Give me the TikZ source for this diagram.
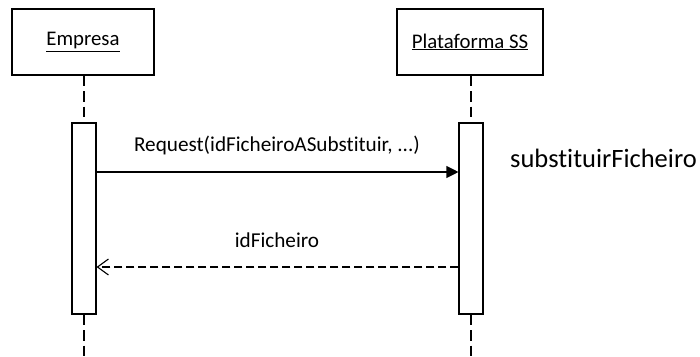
\documentclass[tikz,border=0pt]{standalone}
\usepackage{fontspec}
\setmainfont{Carlito}[Ligatures=NoCommon]
\usetikzlibrary{arrows.meta}
\tikzset{
  objbox/.style={draw=black, line width=1.1pt, fill=white, minimum width=142pt, minimum height=66pt, inner sep=0pt, font=\fontsize{20.8}{24}\selectfont},
  actbox/.style={draw=black, line width=1.1pt, fill=white, minimum width=24pt, minimum height=191pt, inner sep=0pt},
  lifeline/.style={line width=1.1pt, dash pattern=on 10.5pt off 5pt},
  msgcall/.style={line width=1.1pt, -{Triangle[length=12pt,width=12pt]}},
  msgret/.style={line width=1.1pt, dash pattern=on 8pt off 4pt, -{Straight Barb[length=11pt,width=16pt,line width=1.1pt]}},
  msglabel/.style={font=\fontsize{21.2}{24}\selectfont, inner sep=0pt},
}
\begin{document}
\begin{tikzpicture}[x=1pt,y=-1pt]
\useasboundingbox (0,0) rectangle (700,356);
\node[objbox] (e) at (83,42) {\underline{Empresa}};
\node[objbox, minimum width=146pt] (p) at (470,42) {\underline{Plataforma SS}};
\node[actbox] (ae) at (84,218.5) {};
\node[actbox] (ap) at (471,218.5) {};
\coordinate (eb) at (84,356);
\coordinate (pb) at (471,356);
\draw[lifeline] (e.south -| ae.north) -- (ae.north);
\draw[lifeline] (p.south -| ap.north) -- (ap.north);
\draw[lifeline] (ae.south) -- (eb);
\draw[lifeline] (ap.south) -- (pb);
\coordinate (m1) at (0,172);
\coordinate (m2) at (0,267);
\draw[msgcall] (ae.east |- m1) -- (ap.west |- m1);
\draw[msgret] (ap.west |- m2) -- (ae.east |- m2);
\node[msglabel] (l1) at (277,145) {Request(idFicheiroASubstituir, ...)};
\node[msglabel] (l2) at (277,240) {idFicheiro};
\node[font=\fontsize{26.5}{30}\selectfont, inner sep=0pt, anchor=west] (op) at (510,158) {substituirFicheiro};
\end{tikzpicture}
\end{document}
